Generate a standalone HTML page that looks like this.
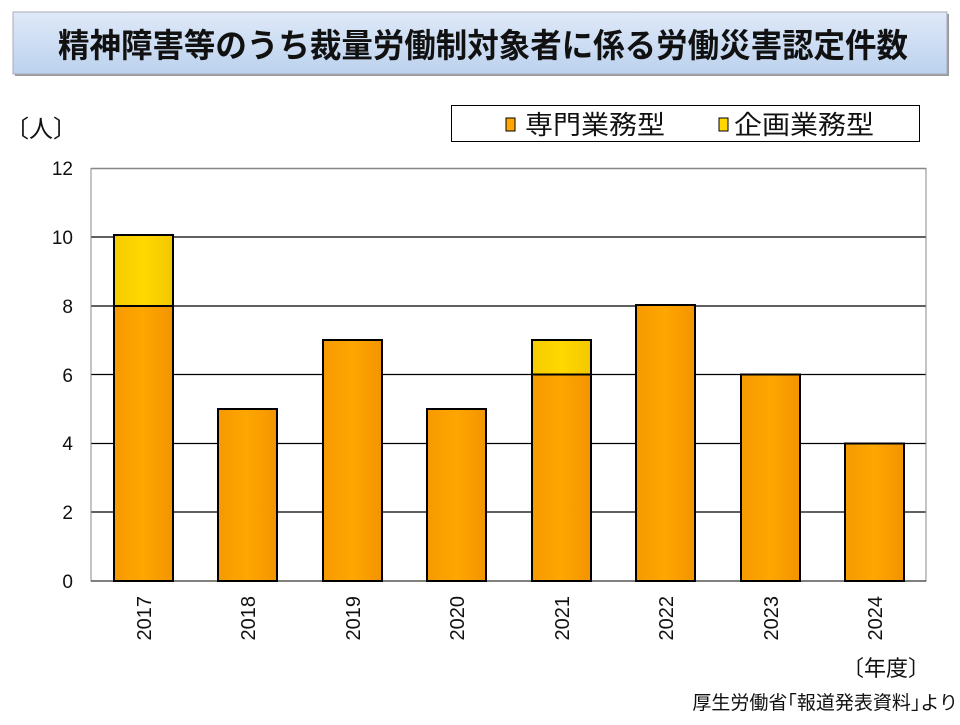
<!DOCTYPE html>
<html><head><meta charset="utf-8"><style>
body{margin:0;width:960px;height:720px;background:#fff;overflow:hidden;font-family:"Liberation Sans","Noto Sans CJK JP",sans-serif}
</style></head><body>
<svg width="960" height="720" xmlns="http://www.w3.org/2000/svg" font-family="Liberation Sans, Noto Sans CJK JP, sans-serif">
<defs>
<linearGradient id="tb" x1="0" y1="0" x2="0" y2="1"><stop offset="0" stop-color="#dfe9f8"/><stop offset="1" stop-color="#bcd2ee"/></linearGradient>
<linearGradient id="or" x1="0" y1="0" x2="1" y2="0"><stop offset="0" stop-color="#f59a00"/><stop offset="0.5" stop-color="#ffa600"/><stop offset="1" stop-color="#f29400"/></linearGradient>
<linearGradient id="ye" x1="0" y1="0" x2="1" y2="0"><stop offset="0" stop-color="#f5cc00"/><stop offset="0.5" stop-color="#ffd800"/><stop offset="1" stop-color="#f2c800"/></linearGradient>
</defs>
<rect x="15" y="14" width="934" height="62" fill="#999"/>
<rect x="13" y="12" width="934" height="62" fill="url(#tb)" stroke="#aab" stroke-width="1"/>
<text x="58" y="57" font-size="33" font-weight="bold" textLength="850" lengthAdjust="spacingAndGlyphs" fill="#111">精神障害等のうち裁量労働制対象者に係る労働災害認定件数</text>
<text x="5" y="137" font-size="24" fill="#111">〔人〕</text>
<rect x="451.5" y="105.5" width="468" height="36" fill="#fff" stroke="#000"/>
<rect x="506" y="118" width="9" height="13" fill="#ffa600" stroke="#000"/>
<text x="525" y="134" font-size="26" textLength="140" lengthAdjust="spacingAndGlyphs" fill="#111">専門業務型</text>
<rect x="719" y="118" width="9" height="13" fill="#ffd800" stroke="#000"/>
<text x="734" y="134" font-size="26" textLength="140" lengthAdjust="spacingAndGlyphs" fill="#111">企画業務型</text>
<g stroke="#000" stroke-width="1.2">
<line x1="91" y1="168.5" x2="926" y2="168.5"/><line x1="91" y1="237" x2="926" y2="237"/><line x1="91" y1="306" x2="926" y2="306"/><line x1="91" y1="374.5" x2="926" y2="374.5"/><line x1="91" y1="443.5" x2="926" y2="443.5"/><line x1="91" y1="512" x2="926" y2="512"/>
</g>
<rect x="91" y="168.5" width="835" height="412.5" fill="none" stroke="#888"/>
<line x1="91" y1="581" x2="926" y2="581" stroke="#000"/>
<g font-size="19" fill="#111" text-anchor="end">
<text x="73" y="175">12</text><text x="73" y="244">10</text><text x="73" y="313">8</text><text x="73" y="382">6</text><text x="73" y="450">4</text><text x="73" y="519">2</text><text x="73" y="588">0</text>
</g>
<g stroke="#000" stroke-width="2">
<rect x="114" y="306" width="59" height="275" fill="url(#or)"/>
<rect x="114" y="235" width="59" height="71" fill="url(#ye)"/>
<rect x="218" y="409" width="59" height="172" fill="url(#or)"/>
<rect x="323" y="340" width="59" height="241" fill="url(#or)"/>
<rect x="427" y="409" width="59" height="172" fill="url(#or)"/>
<rect x="532" y="374.5" width="59" height="206.5" fill="url(#or)"/>
<rect x="532" y="340" width="59" height="34.5" fill="url(#ye)"/>
<rect x="636" y="305" width="59" height="276" fill="url(#or)"/>
<rect x="741" y="374.5" width="59" height="206.5" fill="url(#or)"/>
<rect x="845" y="443.5" width="59" height="137.5" fill="url(#or)"/>
</g>
<g font-size="20" fill="#111" text-anchor="end">
<text transform="translate(151,596) rotate(-90)">2017</text>
<text transform="translate(255,596) rotate(-90)">2018</text>
<text transform="translate(360,596) rotate(-90)">2019</text>
<text transform="translate(464,596) rotate(-90)">2020</text>
<text transform="translate(569,596) rotate(-90)">2021</text>
<text transform="translate(673,596) rotate(-90)">2022</text>
<text transform="translate(778,596) rotate(-90)">2023</text>
<text transform="translate(882,596) rotate(-90)">2024</text>
</g>
<text x="930" y="676" font-size="22" text-anchor="end" fill="#111">〔年度〕</text>
<text x="958" y="709" font-size="19" text-anchor="end" fill="#111">厚生労働省｢報道発表資料｣より</text>
</svg>
</body></html>
